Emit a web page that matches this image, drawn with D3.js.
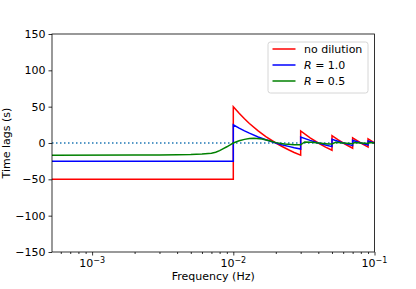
<!DOCTYPE html>
<html>
<head>
<meta charset="utf-8">
<script src="https://d3js.org/d3.v7.min.js"></script>
<style>
	body { margin: 0; background: #fff; }
	svg text { font-family: "DejaVu Sans", sans-serif; font-size: 11px; fill: #000; }
	.axis path, .axis line { stroke: #000; stroke-width: 0.8; }
</style>
</head>
<body>
<div class="lagChart"></div>
<script>
// series: [frequency (Hz), time lag (s)]
var noDilution = [
	[5.2e-4, -50], [0.01, -50], [0.01, 50], [0.011, 40.9], [0.012, 33.3], [0.013, 26.9],
	[0.015, 16.7], [0.017, 8.8], [0.02, 0], [0.022, -4.5], [0.025, -10], [0.027, -13],
	[0.03, -16.7], [0.03, 16.7], [0.035, 7.1], [0.04, 0], [0.045, -5.6], [0.05, -10],
	[0.05, 10], [0.055, 4.5], [0.06, 0], [0.065, -3.8], [0.07, -7.1], [0.07, 7.1],
	[0.08, 0], [0.09, -5.6], [0.09, 5.6], [0.1, 0]
];
var ratio10 = [
	[5.2e-4, -25], [0.01, -25], [0.01, 25], [0.011, 20.5], [0.012, 16.7], [0.013, 13.5],
	[0.015, 8.3], [0.017, 4.4], [0.02, 0], [0.022, -2.3], [0.025, -5], [0.027, -6.5],
	[0.03, -8.3], [0.03, 8.3], [0.035, 3.6], [0.04, 0], [0.045, -2.8], [0.05, -5],
	[0.05, 5], [0.055, 2.3], [0.06, 0], [0.065, -1.9], [0.07, -3.6], [0.07, 3.6],
	[0.08, 0], [0.09, -2.8], [0.09, 2.8], [0.1, 0]
];
var ratio05 = [
	[5.2e-4, -16.7], [0.002, -16.6], [0.003, -16.4], [0.004, -16.1], [0.005, -15.7],
	[0.006, -15], [0.007, -14], [0.0075, -12.8], [0.008, -10.5], [0.0085, -7.8], [0.009, -5.2],
	[0.0095, -2.6], [0.01, 0], [0.011, 3], [0.012, 5], [0.013, 6.2], [0.014, 6.5],
	[0.016, 5.5], [0.018, 3], [0.02, 0.5], [0.023, -1.5], [0.027, -2.5], [0.03, -2.5],
	[0.032, 1.5], [0.036, 1], [0.04, 0], [0.047, -1.5], [0.05, -1.5], [0.053, 1],
	[0.06, 0], [0.07, -1], [0.072, 0.8], [0.08, 0], [0.09, -0.8], [0.092, 0.6], [0.1, 0]
];
var seriesNames = ["no dilution", "R = 1.0", "R = 0.5"];
var seriesColors = ["#ff0000", "#0000ff", "#008000"];
var yTicks = [-150, -100, -50, 0, 50, 100, 150];
var xTicks = [1e-3, 1e-2, 1e-1];
var xExponents = ["\u22123", "\u22122", "\u22121"];

var width = 416,
height = 289,
plotLeft = 52,
plotRight = 374.5,
plotTop = 34,
plotBottom = 252;

var svg = d3.select('div.lagChart')
			.append('svg')
			.attr('width', width)
			.attr('height', height);

var x = d3.scaleLog()
			.domain([5.2e-4, 0.1])
			.range([plotLeft, plotRight]);

var y = d3.scaleLinear()
			.domain([-150, 150])
			.range([plotBottom, plotTop]);

// minor ticks of the log axis
var minor = [];
[1e-4, 1e-3, 1e-2].forEach(function(d){
	for (var k = 2; k < 10; k++){
		var v = d * k;
		if (v >= 5.2e-4 && v <= 0.1) minor.push(v);
	}
});

svg.append("g")
	.attr("class", "axis")
	.attr("transform", "translate(0," + plotBottom + ")")
	.call(d3.axisBottom(x).tickValues(minor).tickSize(2).tickFormat(""))
	.select(".domain").remove();

var xAxis = svg.append("g")
	.attr("class", "axis")
	.attr("transform", "translate(0," + plotBottom + ")")
	.call(d3.axisBottom(x).tickValues(xTicks).tickSize(3.5).tickFormat(""));
xAxis.select(".domain").remove();

xTicks.forEach(function(d, i){
	var t = svg.append("text")
		.attr("x", x(d))
		.attr("y", plotBottom + 15)
		.attr("text-anchor", "middle");
	t.append("tspan").text("10");
	t.append("tspan").attr("dy", -4.5).style("font-size", "8px").text(xExponents[i]);
});

var yAxis = svg.append("g")
	.attr("class", "axis")
	.attr("transform", "translate(" + plotLeft + ",0)")
	.call(d3.axisLeft(y).tickValues(yTicks).tickSize(3.5).tickPadding(3)
			.tickFormat(function(d){ return d < 0 ? "\u2212" + Math.abs(d) : d; }));
yAxis.select(".domain").remove();
yAxis.selectAll(".tick text").style("font-size", "11px").style("font-family", "DejaVu Sans");

// zero reference
svg.append("line")
	.attr("x1", plotLeft).attr("x2", plotRight)
	.attr("y1", y(0)).attr("y2", y(0))
	.attr("stroke", "#1f77b4")
	.attr("stroke-width", 1.5)
	.attr("stroke-dasharray", "1.5,2.5");

var line = d3.line()
			.x(function(d){ return x(d[0]); })
			.y(function(d){ return y(d[1]); });

[noDilution, ratio10, ratio05].forEach(function(s, i){
	svg.append("path")
		.datum(s)
		.attr("fill", "none")
		.attr("stroke", seriesColors[i])
		.attr("stroke-width", 1.5)
		.attr("d", line);
});

// frame
svg.append("rect")
	.attr("x", plotLeft).attr("y", plotTop)
	.attr("width", plotRight - plotLeft).attr("height", plotBottom - plotTop)
	.attr("fill", "none")
	.attr("stroke", "#000")
	.attr("stroke-width", 0.8);

svg.append("text")
	.attr("x", (plotLeft + plotRight) / 2)
	.attr("y", 280)
	.attr("text-anchor", "middle")
	.text("Frequency (Hz)");

svg.append("text")
	.attr("transform", "translate(10," + ((plotTop + plotBottom) / 2) + ") rotate(-90)")
	.attr("text-anchor", "middle")
	.text("Time lags (s)");

// legend
var legend = svg.append("g").attr("class", "legend");
legend.append("rect")
	.attr("x", 268).attr("y", 42)
	.attr("width", 100).attr("height", 51)
	.attr("rx", 2.5)
	.attr("fill", "#fff").attr("fill-opacity", 0.8)
	.attr("stroke", "#cccccc").attr("stroke-width", 0.8);

seriesNames.forEach(function(name, i){
	var ly = 49 + i * 16;
	legend.append("line")
		.attr("x1", 272.5).attr("x2", 295.5)
		.attr("y1", ly).attr("y2", ly)
		.attr("stroke", seriesColors[i])
		.attr("stroke-width", 1.5);
	var t = legend.append("text")
		.attr("x", 304)
		.attr("y", ly + 4);
	if (i == 0){
		t.text(name);
	} else {
		t.append("tspan").style("font-style", "italic").text("R");
		t.append("tspan").text(name.slice(1));
	}
});
</script>
</body>
</html>
